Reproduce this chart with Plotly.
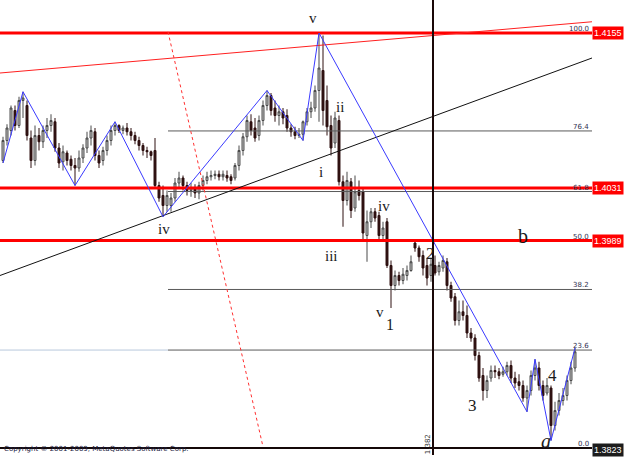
import plotly.graph_objects as go

# ---- candle data (price in pips, 1 pip = 0.0001) ----
opens = [14053,14069,14077,14093,14081,14101,14097,14071,14053,14073,14068,14077,14081,14084,14063,14052,14059,14054,14049,14047,
         14055,14063,14071,14076,14057,14053,14061,14069,14077,14081,14077,14079,14076,14073,14069,14065,14061,14060,14061,14033,
         14025,14017,14017,14023,14035,14039,14033,14029,14031,14027,14033,14037,14040,14041,14042,14040,14041,14040,14039,14049,
         14061,14072,14084,14079,14073,14085,14097,14105,14095,14089,14092,14089,14079,14076,14073,14074,14084,14092,14095,14109,
         14125,14101,14081,14067,14085,14036,14021,14036,14015,14029,14028,13993,14004,14012,14009,13993,14004,13969,13953,13961,
         13957,13961,13965,13987,13983,13977,13969,13961,13969,13964,13967,13972,13953,13944,13925,13932,13929,13915,13911,13897,
         13881,13869,13879,13885,13884,13882,13884,13889,13879,13876,13873,13863,13869,13881,13887,13873,13867,13871,13841,13853,
         13861,13865,13877,13887]
highs = [14072,14082,14097,14097,14104,14108,14101,14077,14081,14079,14081,14087,14090,14087,14067,14065,14061,14057,14055,14061,
         14066,14076,14081,14079,14061,14064,14073,14081,14084,14082,14081,14083,14079,14076,14072,14067,14064,14061,14071,14036,
         14033,14029,14027,14039,14044,14041,14036,14035,14034,14036,14041,14044,14045,14045,14045,14045,14045,14042,14051,14065,
         14075,14089,14090,14087,14089,14101,14109,14107,14101,14097,14095,14094,14082,14080,14079,14085,14095,14100,14113,14155,
         14153,14113,14089,14092,14089,14041,14044,14039,14041,14037,14031,14013,14015,14015,14012,14004,14007,13973,13965,13964,
         13967,13969,13977,13990,13985,13981,13975,13975,13977,13972,13977,13975,13956,13947,13941,13941,13937,13919,13914,13900,
         13887,13881,13889,13889,13887,13888,13892,13893,13884,13882,13877,13873,13885,13894,13892,13877,13879,13873,13860,13867,
         13871,13881,13892,13903]
lows = [14051,14065,14073,14077,14079,14087,14069,14047,14049,14061,14063,14071,14076,14060,14047,14045,14049,14045,14033,14044,
        14051,14059,14065,14053,14047,14049,14057,14065,14073,14075,14074,14073,14069,14066,14061,14057,14055,14053,14031,14020,
        14008,14012,14012,14020,14031,14029,14025,14024,14023,14022,14029,14034,14037,14038,14037,14037,14036,14034,14037,14045,
        14057,14068,14073,14068,14069,14081,14093,14089,14084,14081,14082,14076,14072,14070,14071,14069,14081,14087,14092,14084,
        14081,14073,14057,14063,14033,14000,14017,14007,14012,14021,13989,13972,13999,14004,13989,13988,13967,13935,13949,13953,
        13954,13957,13964,13980,13972,13961,13953,13956,13961,13961,13964,13949,13940,13921,13921,13925,13911,13908,13893,13876,
        13861,13863,13876,13879,13878,13880,13881,13875,13871,13869,13860,13852,13865,13877,13869,13861,13865,13829,13837,13849,
        13857,13861,13874,13884]
closes = [14069,14079,14095,14081,14101,14103,14073,14053,14073,14068,14077,14081,14085,14063,14051,14060,14053,14049,14047,14055,
          14063,14071,14077,14057,14051,14061,14069,14077,14081,14077,14079,14076,14073,14069,14065,14061,14060,14057,14033,14023,
          14017,14025,14023,14035,14039,14033,14029,14031,14027,14033,14037,14040,14041,14042,14040,14042,14039,14037,14049,14061,
          14072,14085,14077,14071,14085,14097,14105,14093,14089,14092,14087,14079,14076,14073,14074,14084,14092,14095,14109,14127,
          14093,14080,14063,14087,14036,14021,14037,14013,14028,14025,13995,14004,14012,14007,13993,13999,13969,13953,13961,13957,
          13962,13965,13972,13983,13976,13967,13959,13970,13963,13969,13973,13953,13943,13925,13932,13929,13915,13911,13897,13879,
          13869,13877,13885,13884,13881,13884,13889,13879,13875,13873,13863,13869,13881,13887,13873,13865,13873,13841,13853,13861,
          13865,13877,13887,13900]
bars = list(range(len(closes)))

# ---- wave zigzag (bar index, price in pips) ----
zig_bar = [0, 5, 18, 28, 40, 66, 75, 79, 131, 133, 137, 143]
zig_pips = [14051, 14108, 14033, 14084, 14008, 14109, 14069, 14155, 13852, 13894, 13829, 13903]

# ---- horizontal levels ----
red_levels = [1.4155, 1.4031, 1.3989]
red_level_labels = ["1.4155", "1.4031", "1.3989"]
fib_low, fib_high = 1.3823, 1.4155
fib_pcts = [100.0, 76.4, 61.8, 50.0, 38.2, 23.6, 0.0]
fib_start_bar = 41.25

# ---- trend lines (bar index, price) ----
x_range = [-0.75, 147.25]
y_range = [1.38062, 1.41814]
red_trend_y = [1.4123, 1.4164]
black_trend_y = [1.3961, 1.4135]
dotted_x = [41.25, 65.0]
dotted_y = [1.4156, 1.3824]
vline_bar = 107.5
vline_bottom = 1.38174

# ---- wave labels ----
wave_text = ["v", "ii", "i", "iv", "iii", "iv", "v", "1", "2", "b", "3", "4", "<i>a</i>"]
wave_bar = [77.5, 84.25, 79.5, 40.25, 82.0, 95.25, 94.25, 96.75, 106.75, 130.0, 117.25, 137.25, 135.75]
wave_price = [1.4167, 1.4096, 1.4044, 1.3998, 1.3977, 1.4017, 1.3932, 1.3922, 1.3979, 1.3993, 1.3857, 1.3881, 1.3829]
wave_size = [15, 15, 15, 15, 15, 15, 15, 16, 17, 20, 17, 17, 20]

fig = go.Figure()

fig.add_trace(go.Candlestick(
    x=bars,
    open=[v / 10000 for v in opens], high=[v / 10000 for v in highs],
    low=[v / 10000 for v in lows], close=[v / 10000 for v in closes],
    increasing=dict(fillcolor="#cccccc", line=dict(color="#4a4a4a", width=1)),
    decreasing=dict(fillcolor="#2e1010", line=dict(color="#2e1010", width=1)),
    whiskerwidth=0, showlegend=False, hoverinfo="skip"))

def add_line(xs, ys, color, width, dash="solid"):
    fig.add_trace(go.Scatter(x=xs, y=ys, mode="lines", line=dict(color=color, width=width, dash=dash),
                             showlegend=False, hoverinfo="skip"))

# fib lines
for p in fib_pcts:
    lvl = fib_low + (fib_high - fib_low) * p / 100
    if p == 0.0:
        add_line(x_range, [lvl, lvl], "#140808", 2)
    else:
        add_line([fib_start_bar, x_range[1]], [lvl, lvl], "#5a5a5a", 1)
# faint extension of 23.6
lvl236 = fib_low + (fib_high - fib_low) * 0.236
add_line([x_range[0], fib_start_bar], [lvl236, lvl236], "#b8c8dc", 1)

# red levels
for lvl in red_levels:
    add_line(x_range, [lvl, lvl], "#ff0000", 3)

# trend lines
add_line(x_range, red_trend_y, "#ff2020", 1)
add_line(x_range, black_trend_y, "#111111", 1)
add_line(dotted_x, dotted_y, "#ff3030", 1, "dot")

# zigzag
add_line(zig_bar, [v / 10000 for v in zig_pips], "#3a3aff", 1)

# vertical line
add_line([vline_bar, vline_bar], [y_range[1], vline_bottom], "#1a0808", 2)

ann = []
for t, xb, yp, s in zip(wave_text, wave_bar, wave_price, wave_size):
    ann.append(dict(x=xb, y=yp, xref="x", yref="y", text=t, showarrow=False,
                    font=dict(family="Liberation Serif", size=s, color="#1a1a1a")))

# fib labels
for p in fib_pcts:
    lvl = fib_low + (fib_high - fib_low) * p / 100
    ann.append(dict(x=0.998, y=lvl, xref="paper", yref="y", text=f"{p:.1f}", showarrow=False,
                    xanchor="right", yanchor="bottom", yshift=-2,
                    font=dict(family="DejaVu Sans", size=7, color="#303050")))

# right price boxes
for lvl, lab in zip(red_levels, red_level_labels):
    ann.append(dict(x=1.0535, y=lvl, xref="paper", yref="y", text=lab, showarrow=False,
                    xanchor="right", yanchor="middle", bgcolor="#ff0000", borderpad=1,
                    font=dict(family="Liberation Sans", size=9, color="white")))
ann.append(dict(x=1.0535, y=fib_low, xref="paper", yref="y", text="1.3823", showarrow=False,
                xanchor="right", yanchor="middle", bgcolor="#1c1c1c", borderpad=1, yshift=-2,
                font=dict(family="Liberation Sans", size=9, color="white")))

# rotated label near vertical line
ann.append(dict(x=106.25, y=1.3826, xref="x", yref="y", text="1.382", showarrow=False,
                textangle=-90, font=dict(family="DejaVu Sans", size=7, color="#333333")))

# copyright
ann.append(dict(x=0.003, y=1.3822, xref="paper", yref="y", text="Copyright © 2001-2009, MetaQuotes Software Corp.",
                showarrow=False, xanchor="left", yanchor="middle",
                font=dict(family="DejaVu Sans", size=7, color="#202040")))

fig.update_layout(
    width=625, height=469, margin=dict(l=0, r=33, t=0, b=0),
    paper_bgcolor="white", plot_bgcolor="white",
    xaxis=dict(range=x_range, visible=False, rangeslider=dict(visible=False), fixedrange=True),
    yaxis=dict(range=y_range, visible=False, fixedrange=True),
    annotations=ann, showlegend=False)

fig.write_html("out.html")
